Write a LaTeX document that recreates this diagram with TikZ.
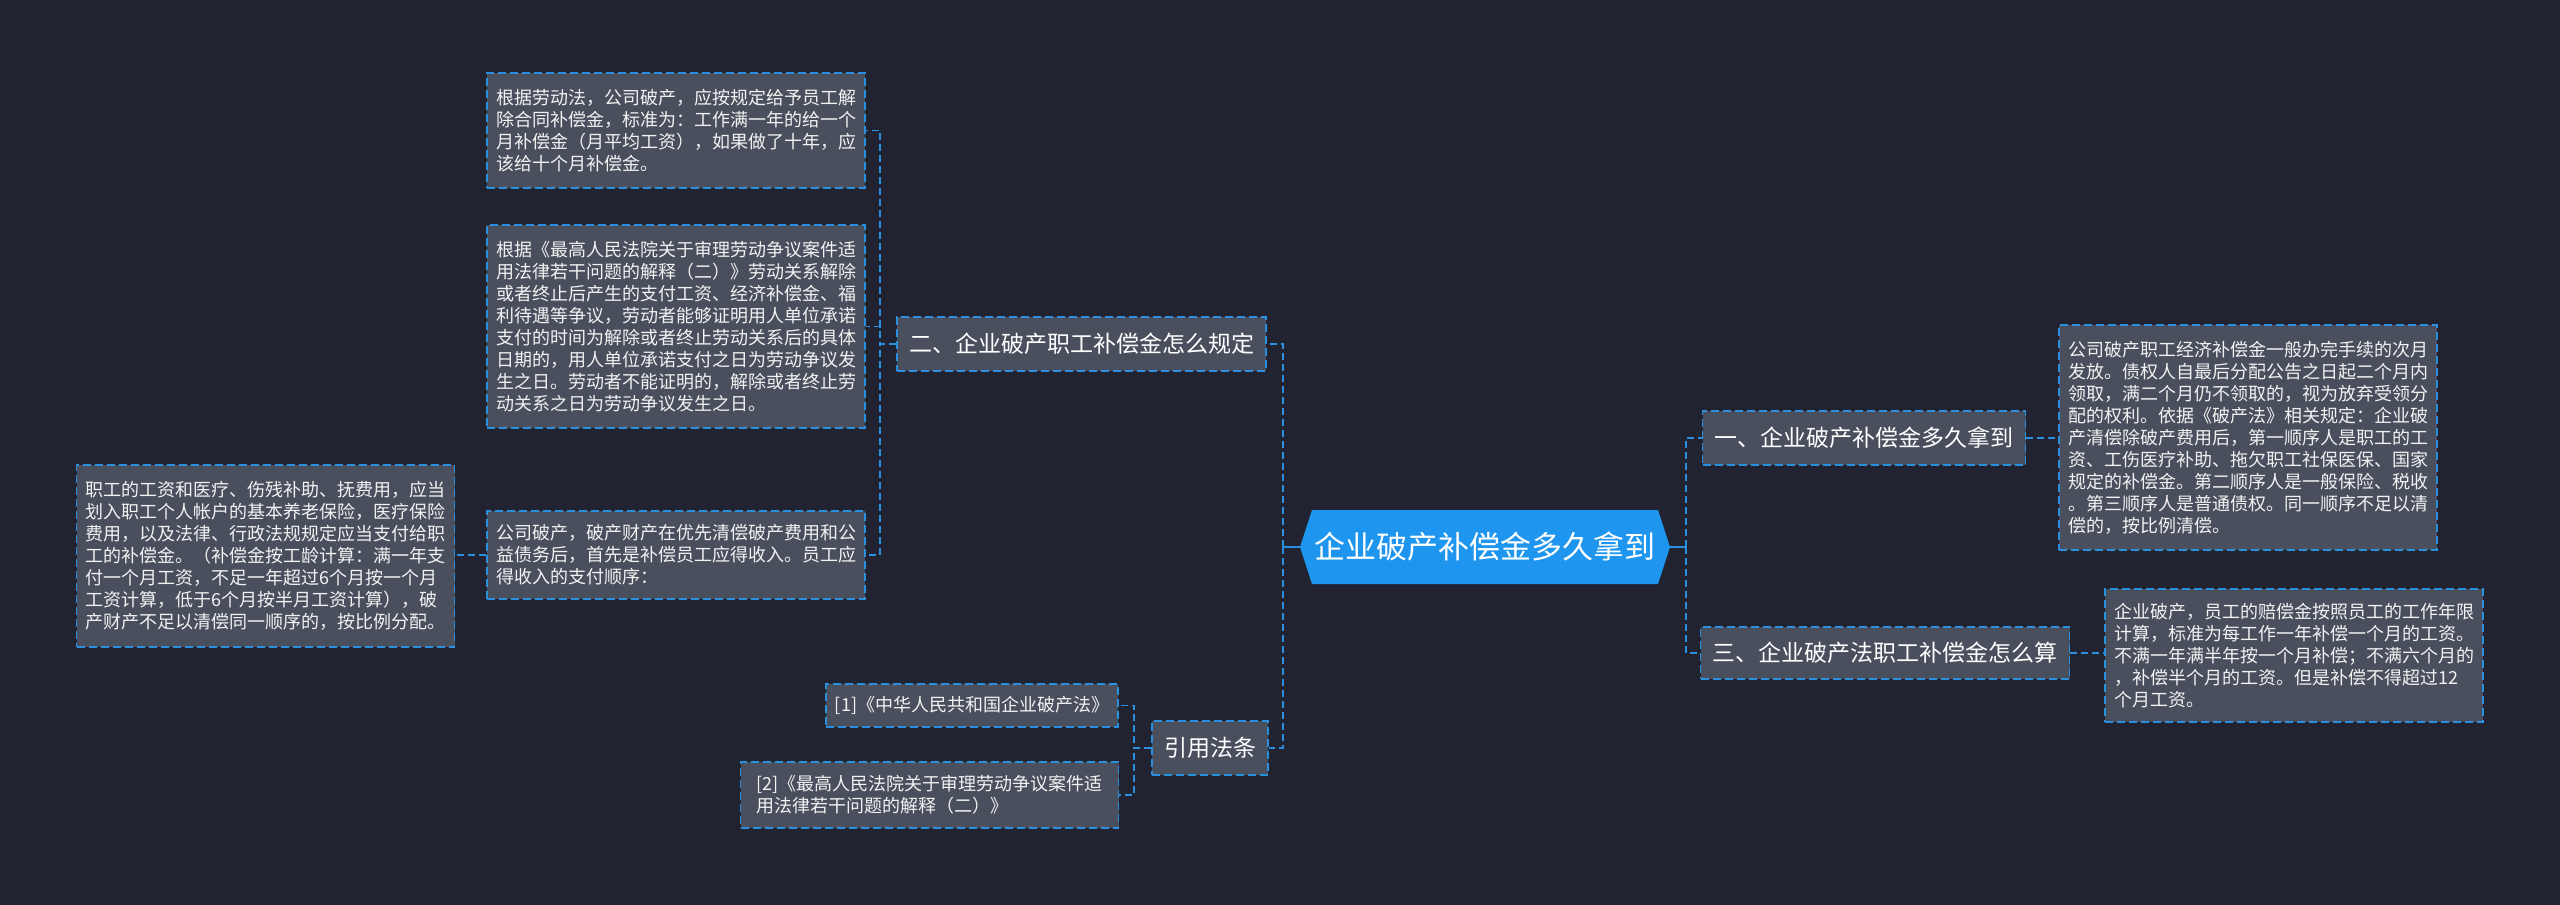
\documentclass[tikz,border=0pt]{standalone}
\usepackage{fontspec}
\setmainfont{Noto Sans CJK SC}
\definecolor{bgc}{HTML}{212430}
\definecolor{boxfill}{HTML}{4A4F5E}
\definecolor{lineblue}{HTML}{2B8FE0}
\definecolor{rootfill}{HTML}{1E95EE}
\definecolor{txt}{HTML}{F2F2F2}
\begin{document}
\begin{tikzpicture}[x=1pt,y=-1pt,
  leaf/.style={draw=lineblue, line width=1.6pt, dash pattern=on 8pt off 4pt, fill=boxfill, text=txt,
    font=\fontsize{18}{22}\selectfont, align=left, inner xsep=9pt, inner ysep=0pt, minimum width=378pt},
  mid/.style={draw=lineblue, line width=1.6pt, dash pattern=on 8pt off 4pt, fill=boxfill, text=white,
    font=\fontsize{23}{28}\selectfont, inner xsep=12pt, inner ysep=0pt, minimum height=54pt},
  conn/.style={draw=lineblue, line width=1.6pt, dash pattern=on 7pt off 4pt},
  stub/.style={draw=lineblue, line width=2pt}]
\useasboundingbox (0,0) rectangle (2560,905);
\fill[bgc] (0,0) rectangle (2560,905);

% root
\fill[rootfill] (1300,547) -- (1312,510) -- (1658,510) -- (1670,547) -- (1658,584) -- (1312,584) -- cycle;
\node[text=white, font=\fontsize{31}{36}\selectfont, minimum width=370pt, minimum height=74pt, inner sep=0pt] (root) at (1485,547) {企业破产补偿金多久拿到};

% level 1
\node[mid] (er) at (1081.5,344) {二、企业破产职工补偿金怎么规定};
\node[mid] (yin) at (1210,748) {引用法条};
\node[mid] (yi) at (1864,438) {一、企业破产补偿金多久拿到};
\node[mid, minimum height=52pt] (san) at (1885,653) {三、企业破产法职工补偿金怎么算};

% leaves left
\node[leaf, minimum height=115pt] (l1) at (676,130.5) {根据劳动法，公司破产，应按规定给予员工解\\除合同补偿金，标准为：工作满一年的给一个\\月补偿金（月平均工资），如果做了十年，应\\该给十个月补偿金。};
\node[leaf, minimum height=203pt] (l2) at (676,326.5) {根据《最高人民法院关于审理劳动争议案件适\\用法律若干问题的解释（二）》劳动关系解除\\或者终止后产生的支付工资、经济补偿金、福\\利待遇等争议，劳动者能够证明用人单位承诺\\支付的时间为解除或者终止劳动关系后的具体\\日期的，用人单位承诺支付之日为劳动争议发\\生之日。劳动者不能证明的，解除或者终止劳\\动关系之日为劳动争议发生之日。};
\node[leaf, minimum height=88pt] (l3) at (676,555) {公司破产，破产财产在优先清偿破产费用和公\\益债务后，首先是补偿员工应得收入。员工应\\得收入的支付顺序：};
\node[leaf, minimum height=182pt] (l3a) at (265.5,556) {职工的工资和医疗、伤残补助、抚费用，应当\\划入职工个人帐户的基本养老保险，医疗保险\\费用，以及法律、行政法规规定应当支付给职\\工的补偿金。（补偿金按工龄计算：满一年支\\付一个月工资，不足一年超过6个月按一个月\\工资计算，低于6个月按半月工资计算），破\\产财产不足以清偿同一顺序的，按比例分配。};

% refs
\node[leaf, minimum width=292pt, minimum height=43pt] (ref1) at (972,705.5) {[1]《中华人民共和国企业破产法》};
\node[leaf, minimum height=66pt] (ref2) at (929.5,795) {[2]《最高人民法院关于审理劳动争议案件适\\用法律若干问题的解释（二）》};

% leaves right
\node[leaf, minimum height=225pt] (r1) at (2248,437.5) {公司破产职工经济补偿金一般办完手续的次月\\发放。债权人自最后分配公告之日起二个月内\\领取，满二个月仍不领取的，视为放弃受领分\\配的权利。依据《破产法》相关规定：企业破\\产清偿除破产费用后，第一顺序人是职工的工\\资、工伤医疗补助、拖欠职工社保医保、国家\\规定的补偿金。第二顺序人是一般保险、税收\\。第三顺序人是普通债权。同一顺序不足以清\\偿的，按比例清偿。};
\node[leaf, minimum height=133pt] (r3) at (2294,655.5) {企业破产，员工的赔偿金按照员工的工作年限\\计算，标准为每工作一年补偿一个月的工资。\\不满一年满半年按一个月补偿；不满六个月的\\，补偿半个月的工资。但是补偿不得超过12\\个月工资。};

% connectors from root
\coordinate (rl) at ([xshift=-17pt]root.west);
\coordinate (rr) at ([xshift=16pt]root.east);
\draw[stub] (root.west) -- (rl);
\draw[stub] (root.east) -- (rr);
\draw[conn] (rl) |- (er.east);
\draw[conn] (rl) |- (yin.east);
\draw[conn] (rr) |- (yi.west);
\draw[conn] (rr) |- (san.west);

% second level
\draw[conn] (er.west) -- ++(-16,0) |- (l1.east);
\draw[conn] (er.west) -- ++(-16,0) |- (l2.east);
\draw[conn] (er.west) -- ++(-16,0) |- (l3.east);
\draw[conn] (l3.west) -- (l3a.east |- l3.west);
\draw[conn] (yin.west) -- ++(-17,0) |- (ref1.east);
\draw[conn] (yin.west) -- ++(-17,0) |- (ref2.east);
\draw[conn] (yi.east) -- (r1.west |- yi.east);
\draw[conn] (san.east) -- (r3.west |- san.east);
\end{tikzpicture}
\end{document}
